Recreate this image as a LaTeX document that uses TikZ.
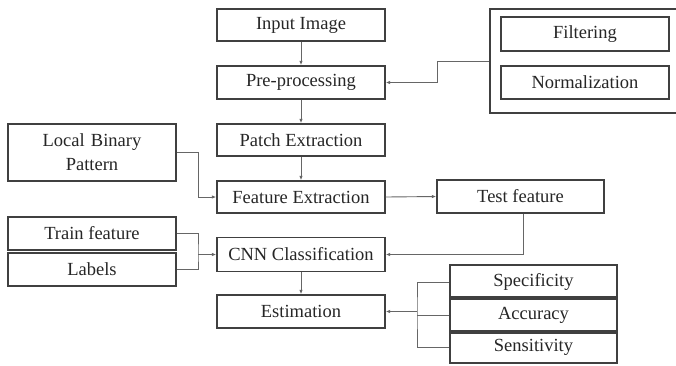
\documentclass[tikz,border=0pt]{standalone}
\usepackage{fontspec}
\setmainfont{Liberation Serif}
\newfontfamily\boxfont{Liberation Serif}
\usetikzlibrary{arrows.meta}
\begin{document}
\begin{tikzpicture}[x=1pt,y=-1pt,
  box/.style={draw=black!75,line width=1.4pt,rectangle,inner sep=0pt,
    text=black!85,font=\boxfont\fontsize{18.5}{20}\selectfont,align=center},
  conn/.style={draw=black!60,line width=0.9pt},
  arr/.style={conn,-{Latex[length=4.5pt,width=3.5pt]}}]
\clip (0,0) rectangle (676,365);
\useasboundingbox (0,0) rectangle (676,365);
\fill[white] (0,0) rectangle (676,365);
% main column
\node[box,minimum width=168,minimum height=32] (input) at (301,25) {Input Image};
\node[box,minimum width=168,minimum height=33] (pre) at (301,82.5) {Pre-processing};
\node[box,minimum width=168,minimum height=32] (patch) at (301,140) {Patch Extraction};
\node[box,minimum width=168,minimum height=32] (feat) at (301,197) {Feature Extraction};
\node[box,minimum width=168,minimum height=34] (cnn) at (301,254.5) {CNN Classification};
\node[box,minimum width=168,minimum height=33] (est) at (301,311.5) {Estimation};
% pre-processing group
\node[box,minimum width=200,minimum height=104] (outer) at (590,61) {};
\node[box,minimum width=168,minimum height=34] (filt) at (585,34) {Filtering};
\node[box,minimum width=168,minimum height=33] (norm) at (585,82.5) {Normalization};
% left column
\node[box,minimum width=168,minimum height=57,text width=160] (lbp) at (92,152.5) {Local Binary\\[4pt]Pattern};
\node[box,minimum width=168,minimum height=33] (train) at (92,233.5) {Train feature};
\node[box,minimum width=168,minimum height=33] (labels) at (92,269.5) {Labels};
% right
\node[box,minimum width=167,minimum height=33] (test) at (520.5,196.5) {Test feature};
\node[box,minimum width=167,minimum height=34] (spec) at (533.5,282) {Specificity};
\node[box,minimum width=167,minimum height=36] (acc) at (533.5,315) {Accuracy};
\node[box,minimum width=167,minimum height=32] (sens) at (533.5,347) {Sensitivity};
% connectors
\draw[arr] (input.south) -- (pre.north);
\draw[arr] (pre.south) -- (patch.north);
\draw[arr] (patch.south) -- (feat.north);
\draw[arr] (cnn.south) -- (est.north);
\draw[arr] (outer.west) -- ++(-52,0) |- (pre.east);
\draw[arr] (lbp.east) -- ++(22,0) |- (feat.west);
\draw[arr] (feat.east) -- (test.west);
\draw[arr] ([xshift=2.5pt]test.south) |- (cnn.east);
\coordinate (tj) at (198,254.5);
\draw[conn] (train.east) -| (tj) |- (labels.east);
\draw[arr] (tj) -- (cnn.west);
\coordinate (sj) at (417,311.5);
\draw[conn] (spec.west) -| (sj) |- (sens.west);
\draw[conn] (acc.west) -- (sj |- acc.west);
\draw[arr] (sj) -- (est.east);
\end{tikzpicture}
\end{document}
